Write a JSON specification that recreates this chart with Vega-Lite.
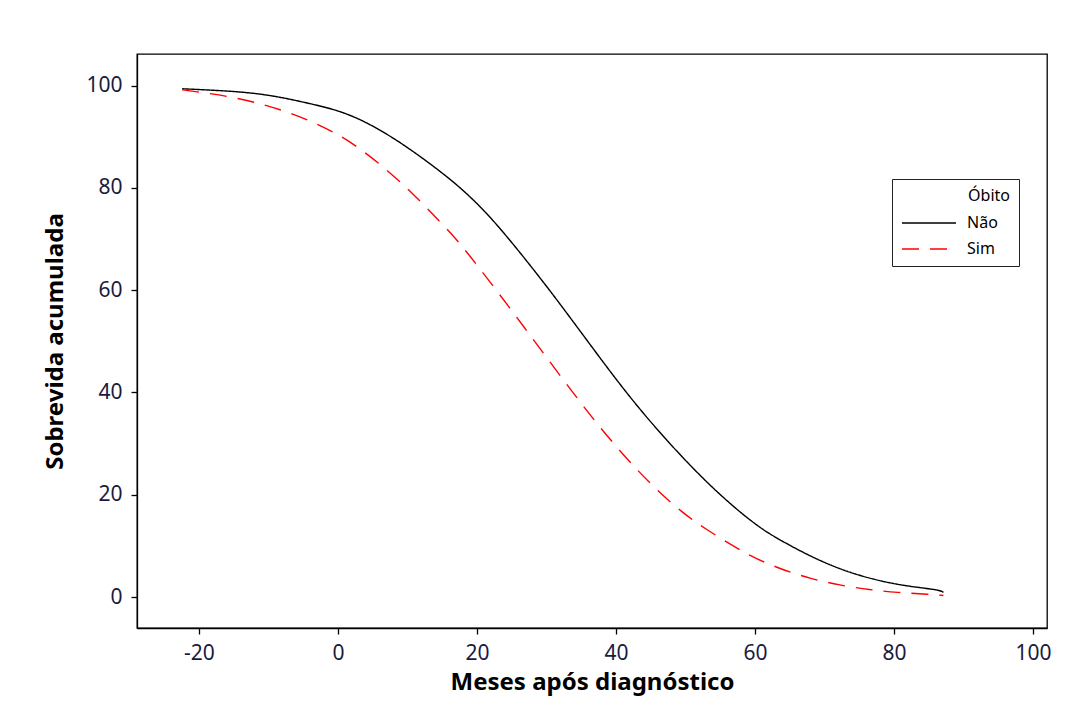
{
  "$schema": "https://vega.github.io/schema/vega-lite/v6.json",
  "width": 910,
  "height": 574,
  "autosize": {"type": "none"},
  "padding": {"left": 137, "top": 54, "right": 21, "bottom": 91},
  "background": "white",
  "config": {
    "font": "Noto Sans",
    "view": {"stroke": "black", "strokeWidth": 1.3},
    "axis": {
      "grid": false,
      "domainColor": "black",
      "domainWidth": 1.3,
      "tickColor": "black",
      "tickWidth": 1.3,
      "tickSize": 6,
      "labelFontSize": 21,
      "labelColor": "#1a1a40",
      "labelPadding": 8,
      "titleFontSize": 24,
      "titleFontWeight": "bold",
      "titleColor": "black"
    },
    "legend": {
      "orient": "none",
      "legendX": 755,
      "legendY": 125,
      "strokeColor": "#222222",
      "padding": 9,
      "symbolType": "M-3,0H3",
      "symbolSize": 324,
      "symbolOffset": 18,
      "symbolStrokeWidth": 1.4,
      "symbolFillColor": "transparent",
      "labelFontSize": 16,
      "labelColor": "black",
      "titleFontSize": 16,
      "titleFontWeight": "normal",
      "titleColor": "black",
      "labelOffset": 28,
      "titleAnchor": "end",
      "titlePadding": 9,
      "rowPadding": 8
    }
  },
  "data": {
    "values": [
      {"t": -22.4, "s": 99.4, "obito": "Não"},
      {"t": -16, "s": 99.0, "obito": "Não"},
      {"t": -11.7, "s": 98.5, "obito": "Não"},
      {"t": -8, "s": 97.7, "obito": "Não"},
      {"t": -4, "s": 96.5, "obito": "Não"},
      {"t": 0, "s": 95.2, "obito": "Não"},
      {"t": 3.6, "s": 93.2, "obito": "Não"},
      {"t": 7, "s": 90.6, "obito": "Não"},
      {"t": 10.4, "s": 87.6, "obito": "Não"},
      {"t": 15.4, "s": 82.6, "obito": "Não"},
      {"t": 19, "s": 78.4, "obito": "Não"},
      {"t": 22.8, "s": 73.1, "obito": "Não"},
      {"t": 28.6, "s": 63.3, "obito": "Não"},
      {"t": 31.9, "s": 57.4, "obito": "Não"},
      {"t": 34.8, "s": 52.1, "obito": "Não"},
      {"t": 36.7, "s": 48.6, "obito": "Não"},
      {"t": 40.1, "s": 42.4, "obito": "Não"},
      {"t": 43.9, "s": 35.9, "obito": "Não"},
      {"t": 48.7, "s": 28.5, "obito": "Não"},
      {"t": 53.5, "s": 21.8, "obito": "Não"},
      {"t": 57.8, "s": 16.6, "obito": "Não"},
      {"t": 60.7, "s": 13.6, "obito": "Não"},
      {"t": 62.6, "s": 11.9, "obito": "Não"},
      {"t": 67.4, "s": 8.3, "obito": "Não"},
      {"t": 72.2, "s": 5.4, "obito": "Não"},
      {"t": 77.0, "s": 3.4, "obito": "Não"},
      {"t": 81.8, "s": 2.1, "obito": "Não"},
      {"t": 86.6, "s": 1.4, "obito": "Não"},
      {"t": 87.1, "s": 0.9, "obito": "Não"},
      {"t": -22.4, "s": 99.2, "obito": "Sim"},
      {"t": -20.3, "s": 98.8, "obito": "Sim"},
      {"t": -16, "s": 98.0, "obito": "Sim"},
      {"t": -11.7, "s": 96.7, "obito": "Sim"},
      {"t": -7.9, "s": 95.2, "obito": "Sim"},
      {"t": -3.5, "s": 92.9, "obito": "Sim"},
      {"t": 0.3, "s": 90.3, "obito": "Sim"},
      {"t": 3.6, "s": 87.3, "obito": "Sim"},
      {"t": 7.0, "s": 83.6, "obito": "Sim"},
      {"t": 10.4, "s": 79.4, "obito": "Sim"},
      {"t": 13.2, "s": 75.5, "obito": "Sim"},
      {"t": 16.4, "s": 71.0, "obito": "Sim"},
      {"t": 19.0, "s": 66.7, "obito": "Sim"},
      {"t": 21.6, "s": 62.1, "obito": "Sim"},
      {"t": 24.3, "s": 57.3, "obito": "Sim"},
      {"t": 26.7, "s": 52.9, "obito": "Sim"},
      {"t": 29.3, "s": 48.2, "obito": "Sim"},
      {"t": 31.9, "s": 43.4, "obito": "Sim"},
      {"t": 34.6, "s": 38.6, "obito": "Sim"},
      {"t": 37.2, "s": 34.0, "obito": "Sim"},
      {"t": 40.1, "s": 29.3, "obito": "Sim"},
      {"t": 43.0, "s": 24.9, "obito": "Sim"},
      {"t": 45.9, "s": 20.9, "obito": "Sim"},
      {"t": 49.2, "s": 16.9, "obito": "Sim"},
      {"t": 52.6, "s": 13.5, "obito": "Sim"},
      {"t": 57.8, "s": 9.2, "obito": "Sim"},
      {"t": 60.0, "s": 7.6, "obito": "Sim"},
      {"t": 63.6, "s": 5.5, "obito": "Sim"},
      {"t": 67.9, "s": 3.6, "obito": "Sim"},
      {"t": 72.2, "s": 2.3, "obito": "Sim"},
      {"t": 76.5, "s": 1.4, "obito": "Sim"},
      {"t": 80.4, "s": 0.9, "obito": "Sim"},
      {"t": 85.2, "s": 0.5, "obito": "Sim"},
      {"t": 87.1, "s": 0.3, "obito": "Sim"}
    ]
  },
  "mark": {"type": "line", "strokeWidth": 1.4, "interpolate": "basis"},
  "encoding": {
    "x": {
      "field": "t",
      "type": "quantitative",
      "scale": {"domain": [-28.9, 102], "nice": false, "zero": false},
      "axis": {"values": [-20, 0, 20, 40, 60, 80, 100], "title": "Meses após diagnóstico", "titlePadding": 7, "labelExpr": "replace(datum.label, '−', '-')"}
    },
    "y": {
      "field": "s",
      "type": "quantitative",
      "scale": {"domain": [-6.06, 106.2], "nice": false, "zero": false},
      "axis": {"values": [0, 20, 40, 60, 80, 100], "title": "Sobrevida acumulada", "labelPadding": 9, "titlePadding": 18}
    },
    "color": {
      "field": "obito",
      "type": "nominal",
      "scale": {"domain": ["Não", "Sim"], "range": ["#000000", "#ff0000"]},
      "legend": {"title": "Óbito", "labelExpr": "datum.label + '\u2800'"}
    },
    "strokeDash": {
      "field": "obito",
      "type": "nominal",
      "scale": {"domain": ["Não", "Sim"], "range": [[1, 0], [17, 11]]},
      "legend": {"title": "Óbito", "labelExpr": "datum.label + '\u2800'"}
    }
  }
}
